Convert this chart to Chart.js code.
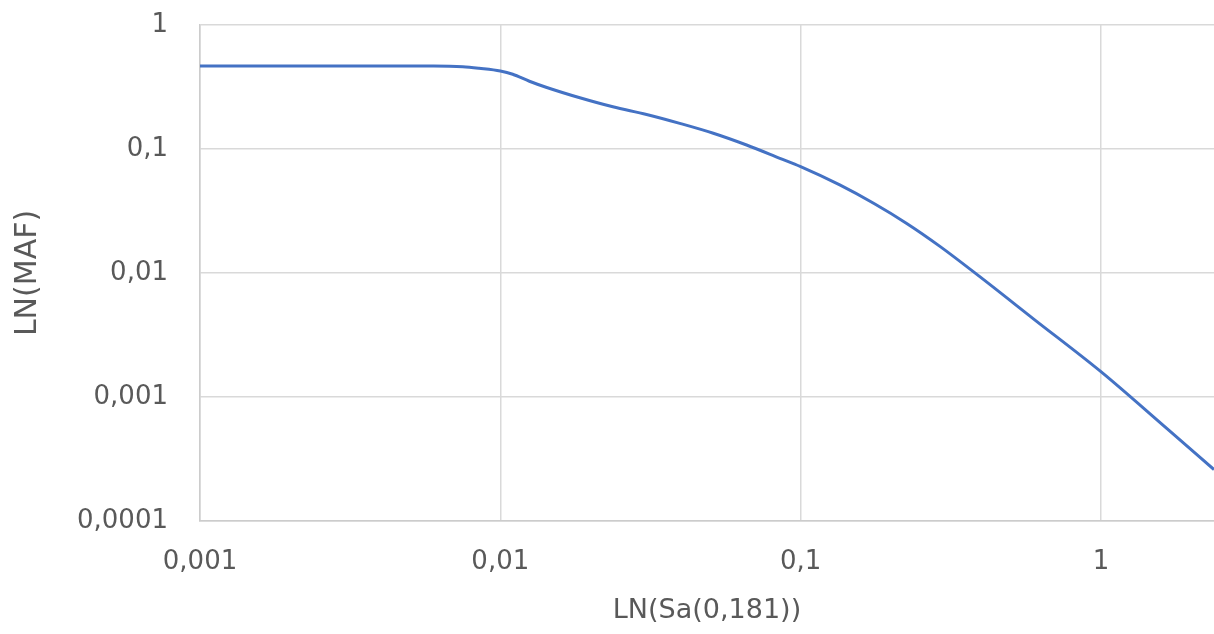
<!DOCTYPE html>
<html>
<head>
<meta charset="utf-8">
<script src="https://cdn.jsdelivr.net/npm/chart.js@4/dist/chart.umd.min.js"></script>
<style>
  html, body { margin: 0; padding: 0; background: #ffffff; }
  #wrap { width: 1214px; height: 634px; position: relative; }
</style>
</head>
<body>
<div id="wrap"><canvas id="c"></canvas></div>
<script>
// Data
const sa  = [0.001, 0.003, 0.006, 0.0075, 0.0085, 0.01, 0.011, 0.0125, 0.0142, 0.0184, 0.0237, 0.0307, 0.0396, 0.0512, 0.0661, 0.0853, 0.1, 0.135, 0.175, 0.2256, 0.291, 0.396, 0.596, 1, 1.66, 2.38];
const maf = [0.467, 0.467, 0.467, 0.461, 0.448, 0.426, 0.401, 0.352, 0.315, 0.259, 0.219, 0.190, 0.161, 0.134, 0.1077, 0.0841, 0.072, 0.0513, 0.0365, 0.0251, 0.0164, 0.0093, 0.00427, 0.0016, 0.000555, 0.00026];
const xTicks = [0.001, 0.01, 0.1, 1];
const yTicks = [0.0001, 0.001, 0.01, 0.1, 1];
const xTitle = 'LN(Sa(0,181))';
const yTitle = 'LN(MAF)';

const fmt = v => String(v).replace('.', ',');
const keepTicks = list => scale => {
  scale.ticks = list.map(v => ({ value: v, major: true }));
};
const FONT = "'DejaVu Sans', sans-serif";

new Chart(document.getElementById('c'), {
  type: 'line',
  data: {
    datasets: [{
      data: sa.map((x, i) => ({ x: x, y: maf[i] })),
      borderColor: '#4472C4',
      borderWidth: 3,
      pointRadius: 0,
      fill: false,
      cubicInterpolationMode: 'monotone'
    }]
  },
  options: {
    responsive: true,
    maintainAspectRatio: false,
    animation: false,
    layout: { padding: { top: 25, right: 0, left: 0, bottom: 0 } },
    plugins: { legend: { display: false }, tooltip: { enabled: false } },
    scales: {
      x: {
        type: 'logarithmic',
        min: 0.001,
        max: 2.38,
        afterBuildTicks: keepTicks(xTicks),
        afterFit: s => { s.height = 113; s.paddingLeft = 0; s.paddingRight = 0; },
        grid: { color: '#d9d9d9', lineWidth: 1.5, drawTicks: false },
        border: { color: '#cccccc', width: 1.5 },
        ticks: {
          padding: 26,
          color: '#595959',
          font: { family: FONT, size: 26 },
          maxRotation: 0,
          autoSkip: false,
          callback: v => fmt(v)
        },
        title: {
          display: true,
          text: xTitle,
          color: '#595959',
          font: { family: FONT, size: 27 },
          padding: { top: 0, bottom: 7 }
        }
      },
      y: {
        type: 'logarithmic',
        min: 0.0001,
        max: 1,
        afterBuildTicks: keepTicks(yTicks),
        afterFit: s => { s.width = 200; s.paddingTop = 0; s.paddingBottom = 0; },
        grid: { color: '#d9d9d9', lineWidth: 1.5, drawTicks: false },
        border: { color: '#cccccc', width: 1.5 },
        ticks: {
          padding: 32,
          color: '#595959',
          font: { family: FONT, size: 26 },
          autoSkip: false,
          callback: v => fmt(v)
        },
        title: {
          display: true,
          text: yTitle,
          color: '#595959',
          font: { family: FONT, size: 30 },
          padding: { top: 10, bottom: 0 }
        }
      }
    }
  }
});
</script>
</body>
</html>
